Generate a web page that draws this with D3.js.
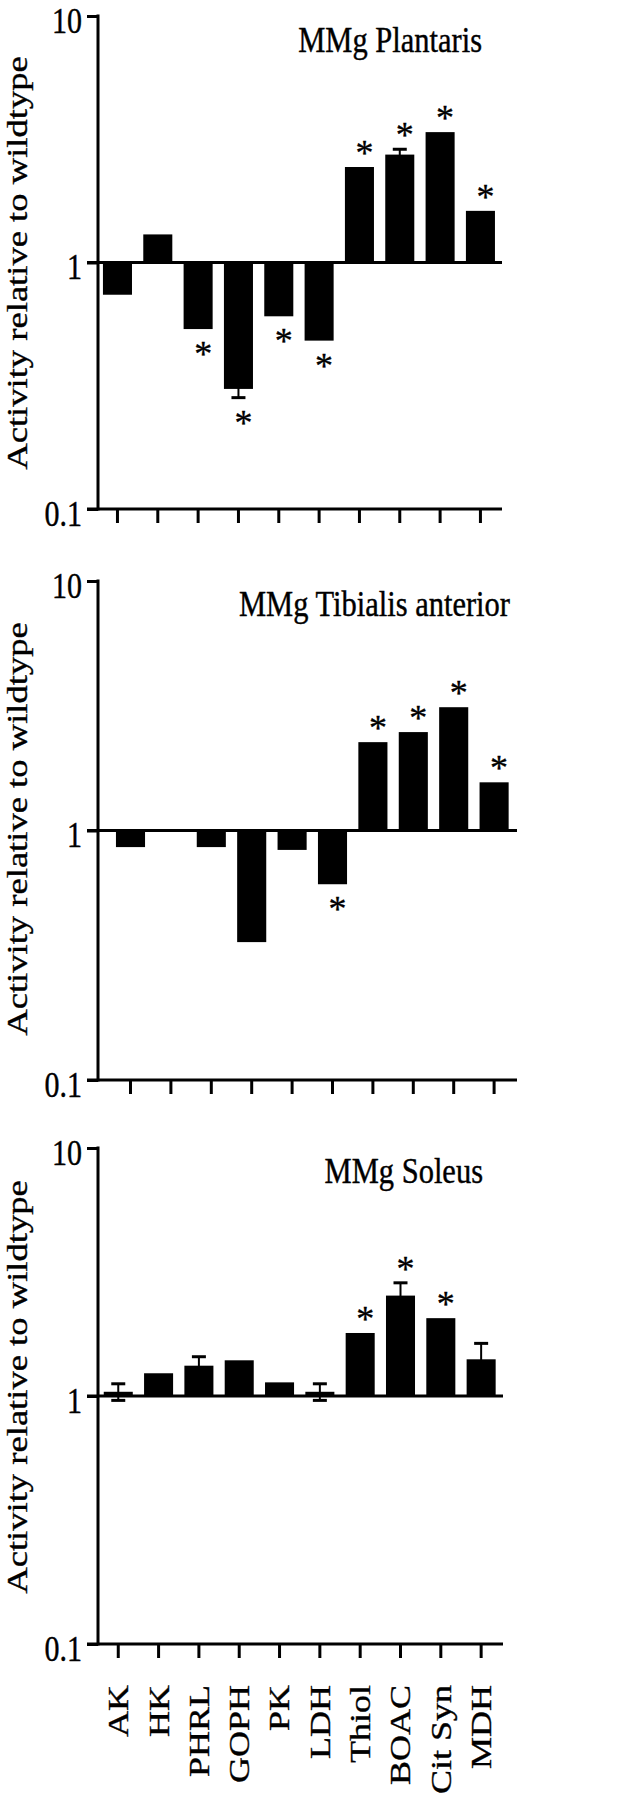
<!DOCTYPE html>
<html>
<head>
<meta charset="utf-8">
<script src="https://cdn.jsdelivr.net/npm/d3@7"></script>
<style>
  html, body { margin: 0; padding: 0; background: #fff; }
  svg { display: block; }
  text { font-family: "Liberation Serif", "Times New Roman", serif; fill: #000; stroke: #000; stroke-width: 0.35px; }
</style>
</head>
<body>
<svg id="chart" width="641" height="1800"></svg>
<script>
// ---------------- data ----------------
const categories = ["AK", "HK", "PHRL", "GOPH", "PK", "LDH", "Thiol", "BOAC", "Cit Syn", "MDH"];
const yTickValues = [0.1, 1, 10];
const yTickLabels = ["0.1", "1", "10"];
const yAxisTitle = "Activity relative to wildtype";

const plantarisTitle = "MMg Plantaris";
const plantarisValues = [0.74, 1.30, 0.537, 0.307, 0.605, 0.482, 2.44, 2.74, 3.38, 1.62];
const plantarisSem    = [0, 0, 0, 0.024, 0, 0, 0, 0.14, 0, 0];
const plantarisSig    = [0, 0, 1, 1, 1, 1, 1, 1, 1, 1];

const tibialisTitle = "MMg Tibialis anterior";
const tibialisValues = [0.858, 1.0, 0.858, 0.357, 0.836, 0.609, 2.26, 2.48, 3.12, 1.56];
const tibialisSem    = [0, 0, 0, 0, 0, 0, 0, 0, 0, 0];
const tibialisSig    = [0, 0, 0, 0, 0, 1, 1, 1, 1, 1];

const soleusTitle = "MMg Soleus";
const soleusValues = [1.04, 1.235, 1.325, 1.393, 1.135, 1.04, 1.795, 2.54, 2.06, 1.406];
const soleusSem    = [0.08, 0, 0.115, 0, 0, 0.08, 0, 0.32, 0, 0.224];
const soleusSig    = [0, 0, 0, 0, 0, 0, 1, 1, 1, 0];

// ---------------- layout ----------------
const STRETCH = 1.2;          // vertical stretch of glyphs in the reference
const LW = 3;                 // axis line width
const panels = [
  { title: plantarisTitle, values: plantarisValues, sem: plantarisSem, sig: plantarisSig,
    top: 16, bottom: 509, bx0: 97.3, bx1: 500.6, axisEnd: 502, titleX: 482, titleY: 51.7, labelY: 263, xLabels: false },
  { title: tibialisTitle, values: tibialisValues, sem: tibialisSem, sig: tibialisSig,
    top: 581, bottom: 1080, bx0: 110.3, bx1: 514.3, axisEnd: 517, titleX: 510, titleY: 616, labelY: 829, xLabels: false },
  { title: soleusTitle, values: soleusValues, sem: soleusSem, sig: soleusSig,
    top: 1148, bottom: 1644, bx0: 98.1, bx1: 501.3, axisEnd: 503, titleX: 483, titleY: 1183.3, labelY: 1387, xLabels: true }
];
const axisX = 98;
const tickLen = 11;

const svg = d3.select("#chart");
svg.append("rect").attr("width", 641).attr("height", 1800).attr("fill", "#fff");

panels.forEach(p => {
  const g = svg.append("g");
  const y = d3.scaleLog().domain([0.1, 10]).range([p.bottom, p.top]);
  const x = d3.scaleBand().domain(categories).range([p.bx0, p.bx1])
              .paddingInner(0.28).paddingOuter(0.14);
  const data = categories.map((c, i) => ({ c, v: p.values[i], e: p.sem[i], s: p.sig[i] }));

  // bars
  g.selectAll("rect.bar").data(data).join("rect")
    .attr("class", "bar")
    .attr("x", d => x(d.c))
    .attr("width", x.bandwidth())
    .attr("y", d => Math.min(y(d.v), y(1)))
    .attr("height", d => Math.abs(y(d.v) - y(1)))
    .attr("fill", "#000");

  // error bars
  const eb = data.filter(d => d.e > 0);
  const cap = 14;
  g.selectAll("line.stem").data(eb).join("line")
    .attr("x1", d => x(d.c) + x.bandwidth() / 2).attr("x2", d => x(d.c) + x.bandwidth() / 2)
    .attr("y1", d => y(d.v - d.e)).attr("y2", d => y(d.v + d.e))
    .attr("stroke", "#000").attr("stroke-width", 2);
  g.selectAll("line.capHi").data(eb).join("line")
    .attr("x1", d => x(d.c) + x.bandwidth() / 2 - cap / 2).attr("x2", d => x(d.c) + x.bandwidth() / 2 + cap / 2)
    .attr("y1", d => y(d.v + d.e)).attr("y2", d => y(d.v + d.e))
    .attr("stroke", "#000").attr("stroke-width", LW);
  g.selectAll("line.capLo").data(eb).join("line")
    .attr("x1", d => x(d.c) + x.bandwidth() / 2 - cap / 2).attr("x2", d => x(d.c) + x.bandwidth() / 2 + cap / 2)
    .attr("y1", d => y(d.v - d.e)).attr("y2", d => y(d.v - d.e))
    .attr("stroke", "#000").attr("stroke-width", LW);

  // significance stars
  const starFs = 36;
  g.selectAll("text.star").data(data.filter(d => d.s)).join("text")
    .attr("class", "star")
    .attr("text-anchor", "middle")
    .attr("font-size", starFs)
    .attr("x", d => x(d.c) + x.bandwidth() / 2 + 5)
    .attr("y", d => {
      const cy = d.v >= 1 ? y(d.v + d.e) - 19 : y(d.v - d.e) + 20;
      return cy + 0.475 * starFs;
    })
    .text("*");

  // baseline at 1 and x-axis line at 0.1
  g.append("line").attr("x1", axisX - tickLen).attr("x2", p.axisEnd)
    .attr("y1", y(1)).attr("y2", y(1)).attr("stroke", "#000").attr("stroke-width", LW);
  g.append("line").attr("x1", axisX - tickLen).attr("x2", p.axisEnd)
    .attr("y1", y(0.1)).attr("y2", y(0.1)).attr("stroke", "#000").attr("stroke-width", LW);

  // y axis
  const yAxis = d3.axisLeft(y).tickValues(yTickValues)
    .tickFormat((d, i) => yTickLabels[i]).tickSize(tickLen).tickSizeOuter(0).tickPadding(0);
  const ya = g.append("g").attr("transform", `translate(${axisX},0)`).call(yAxis);
  ya.select(".domain").attr("stroke", "#000").attr("stroke-width", LW)
    .attr("d", `M0,${y(10) - LW / 2}V${y(0.1) + LW / 2}`);
  ya.selectAll(".tick line").attr("stroke", "#000").attr("stroke-width", LW);
  const tickFs = 30;
  ya.selectAll(".tick text")
    .attr("font-size", tickFs).attr("font-family", null)
    .attr("text-anchor", "end").attr("dy", null).attr("x", null).attr("y", null)
    .attr("transform", `translate(-16, ${4 + 0.338 * tickFs * STRETCH}) scale(1, ${STRETCH})`);

  // x axis ticks (labels only on the last panel)
  const xAxis = d3.axisBottom(x).tickSize(14).tickSizeOuter(0)
    .tickFormat(p.xLabels ? (d => d) : () => "");
  const xa = g.append("g").attr("transform", `translate(0,${y(0.1)})`).call(xAxis);
  xa.select(".domain").remove();
  xa.selectAll(".tick line").attr("stroke", "#000").attr("stroke-width", LW);
  const xFs = 30;
  xa.selectAll(".tick text")
    .attr("font-size", xFs).attr("font-family", null)
    .attr("text-anchor", "end").attr("dy", null).attr("x", null).attr("y", null)
    .attr("transform", `translate(${0.331 * xFs}, 41) scale(1, ${STRETCH}) rotate(-90)`);

  // panel title
  g.append("text")
    .attr("text-anchor", "end").attr("font-size", 30.5)
    .attr("transform", `translate(${p.titleX},${p.titleY}) scale(1, ${STRETCH})`)
    .text(p.title);

  // y-axis title
  g.append("text")
    .attr("text-anchor", "middle").attr("font-size", 30.5)
    .attr("transform", `translate(27,${p.labelY}) scale(1, ${STRETCH}) rotate(-90)`)
    .text(yAxisTitle);
});
</script>
</body>
</html>
